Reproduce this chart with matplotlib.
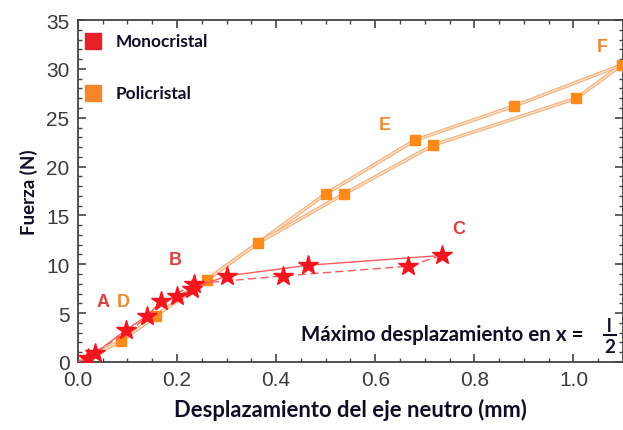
import matplotlib
matplotlib.use("Agg")
import matplotlib.pyplot as plt
from matplotlib.ticker import MultipleLocator

# Monocristal (stars): loading A -> B -> C, unloading C -> back
mono_carga_x = [0.0, 0.02, 0.035, 0.098, 0.139, 0.168, 0.200, 0.230, 0.300, 0.465, 0.734]
mono_carga_y = [0.0, 0.4, 0.9, 3.3, 4.7, 6.2, 6.7, 7.5, 8.8, 9.9, 10.9]
mono_descarga_x = [0.734, 0.667, 0.413, 0.235, 0.20, 0.10, 0.0]
mono_descarga_y = [10.9, 9.8, 8.8, 8.0, 7.0, 3.0, 0.0]

# Policristal (squares): loading D -> E -> F, unloading F -> back
poli_carga_x = [0.0, 0.087, 0.157, 0.260, 0.364, 0.500, 0.680, 0.880, 1.097]
poli_carga_y = [0.0, 2.1, 4.7, 8.4, 12.2, 17.2, 22.7, 26.2, 30.4]
poli_descarga_x = [1.097, 1.006, 0.717, 0.537, 0.364, 0.260]
poli_descarga_y = [30.4, 27.0, 22.2, 17.2, 12.2, 8.4]

# point labels
letras = ["A", "D", "B", "C", "E", "F"]
letras_x = [0.051, 0.091, 0.197, 0.768, 0.620, 1.059]
letras_y = [6.2, 6.2, 10.5, 13.7, 24.3, 32.3]
letras_color = ["#d9433f", "#eb8a2e", "#d9433f", "#d9433f", "#eb8a2e", "#eb8a2e"]

rojo = "#f4151f"
naranja = "#ff8a1a"
linea_naranja = "#f8b07a"
texto = "#0d0d26"

fig = plt.figure(figsize=(6.23, 4.31), dpi=100)
ax = fig.add_axes([0.125, 0.158, 0.875, 0.793])

# orange lines look like thin double strokes
for xs, ys in [(poli_carga_x, poli_carga_y), (poli_descarga_x, poli_descarga_y)]:
    ax.plot(xs, ys, color=linea_naranja, lw=2.6, zorder=2, solid_capstyle="round")
    ax.plot(xs, ys, color="#fde6d2", lw=0.9, zorder=2)
ax.plot(poli_carga_x[1:], poli_carga_y[1:], "s", color=naranja, ms=6.5, zorder=3)
ax.plot(poli_descarga_x[1:4], poli_descarga_y[1:4], "s", color=naranja, ms=6.5, zorder=3)

ax.plot(mono_carga_x, mono_carga_y, color="#ff5a5a", lw=1.0, zorder=4)
ax.plot(mono_descarga_x, mono_descarga_y, color="#ff5a5a", lw=1.0, ls=(0, (6, 3)), zorder=4)
ax.plot(mono_carga_x[1:], mono_carga_y[1:], "*", color=rojo, ms=15, zorder=5)
ax.plot(mono_descarga_x[1:4], mono_descarga_y[1:4], "*", color=rojo, ms=15, zorder=5)

for t, x, y, c in zip(letras, letras_x, letras_y, letras_color):
    ax.text(x, y, t, color=c, fontsize=13, fontweight="bold",
            family="Liberation Sans", ha="center", va="center")

# legend drawn as squares + text
ax.plot([0.0305], [32.85], "s", color="#e8202a", ms=12, clip_on=False)
ax.plot([0.0305], [27.5], "s", color="#f7862a", ms=12, clip_on=False)
ax.text(0.077, 32.85, "Monocristal", fontsize=12.4, fontweight="bold", family="Lato",
        color=texto, va="center")
ax.text(0.077, 27.5, "Policristal", fontsize=12.4, fontweight="bold", family="Lato",
        color=texto, va="center")

# annotation with fraction l/2
ax.text(0.451, 2.87, "Máximo desplazamiento en x =", fontsize=14.8, fontweight="bold",
        family="Lato", color=texto, va="center")
ax.text(1.073, 3.75, "l", fontsize=13, fontweight="bold", family="Lato",
        color=texto, ha="center", va="center")
ax.text(1.073, 1.55, "2", fontsize=13.5, fontweight="bold", family="Lato",
        color=texto, ha="center", va="center")
ax.plot([1.062, 1.085], [2.72, 2.72], color=texto, lw=1.5, clip_on=False)

ax.set_xlim(0, 1.1)
ax.set_ylim(0, 35)
ax.xaxis.set_major_locator(MultipleLocator(0.2))
ax.xaxis.set_minor_locator(MultipleLocator(0.05))
ax.yaxis.set_major_locator(MultipleLocator(5))
ax.yaxis.set_minor_locator(MultipleLocator(1))
ax.tick_params(which="both", direction="in", top=True, right=True, colors="#444444")
ax.tick_params(which="major", length=6, width=1.2, labelsize=15, pad=6)
ax.tick_params(which="minor", length=3, width=1.0)
for lab in ax.get_xticklabels() + ax.get_yticklabels():
    lab.set_family("Liberation Sans")
    lab.set_color("#3a3a3a")
for s in ax.spines.values():
    s.set_color("#444444")
    s.set_linewidth(1.3)

ax.set_xlabel("Desplazamiento del eje neutro (mm)", fontsize=15.8, fontweight="bold",
              family="Lato", color=texto, labelpad=6)
ax.set_ylabel("Fuerza (N)", fontsize=13.5, fontweight="bold", family="Lato",
              color=texto, labelpad=6)

fig.savefig("out.png", dpi=100)
